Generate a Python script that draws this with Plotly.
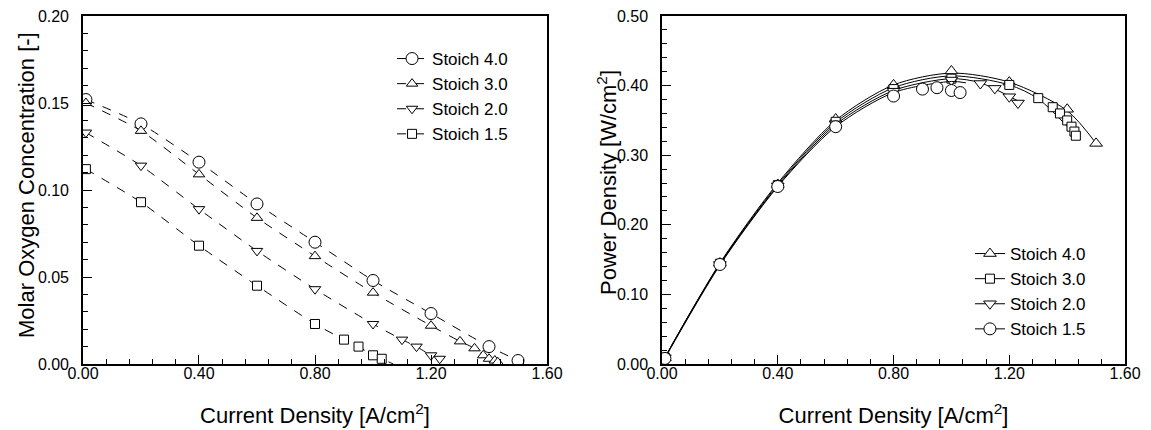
import plotly.graph_objects as go

# ---- left panel: molar oxygen concentration vs current density ----
o2_x_40 = [0.01, 0.2, 0.4, 0.6, 0.8, 1.0, 1.2, 1.4, 1.5]
o2_y_40 = [0.152, 0.138, 0.116, 0.092, 0.070, 0.048, 0.029, 0.010, 0.002]
o2_x_30 = [0.01, 0.2, 0.4, 0.6, 0.8, 1.0, 1.2, 1.3, 1.35, 1.38, 1.40, 1.42, 1.43]
o2_y_30 = [0.150, 0.134, 0.109, 0.084, 0.062, 0.041, 0.022, 0.013, 0.009, 0.005, 0.003, 0.002, 0.001]
o2_x_20 = [0.01, 0.2, 0.4, 0.6, 0.8, 1.0, 1.1, 1.15, 1.2, 1.23]
o2_y_20 = [0.133, 0.114, 0.089, 0.065, 0.043, 0.023, 0.014, 0.010, 0.005, 0.003]
o2_x_15 = [0.01, 0.2, 0.4, 0.6, 0.8, 0.9, 0.95, 1.0, 1.03]
o2_y_15 = [0.112, 0.093, 0.068, 0.045, 0.023, 0.014, 0.010, 0.005, 0.003]

# dashed curves (end points where they meet the axis)
o2_line_x_20 = o2_x_20 + [1.26]
o2_line_y_20 = o2_y_20 + [0.0]
o2_line_x_15 = o2_x_15 + [1.07]
o2_line_y_15 = o2_y_15 + [0.0]

# ---- right panel: power density vs current density ----
pw_x_40 = [0.0, 0.01, 0.2, 0.4, 0.6, 0.8, 1.0, 1.2, 1.4, 1.5]
pw_y_40 = [0.0, 0.009, 0.145, 0.258, 0.352, 0.401, 0.421, 0.405, 0.366, 0.317]
pw_x_30 = [0.0, 0.01, 0.2, 0.4, 0.6, 0.8, 1.0, 1.2, 1.3, 1.35, 1.375, 1.40, 1.415, 1.425, 1.43]
pw_y_30 = [0.0, 0.009, 0.144, 0.257, 0.348, 0.395, 0.410, 0.401, 0.382, 0.369, 0.360, 0.350, 0.341, 0.334, 0.328]
pw_x_20 = [0.0, 0.01, 0.2, 0.4, 0.6, 0.8, 1.0, 1.1, 1.15, 1.2, 1.23]
pw_y_20 = [0.0, 0.009, 0.143, 0.256, 0.345, 0.392, 0.408, 0.403, 0.396, 0.384, 0.375]
pw_x_15 = [0.0, 0.01, 0.2, 0.4, 0.6, 0.8, 0.9, 0.95, 1.0, 1.03]
pw_y_15 = [0.0, 0.008, 0.143, 0.255, 0.341, 0.385, 0.395, 0.397, 0.393, 0.390]

# fitted curves drawn through the power data
fit_x_40 = [0.0, 0.01, 0.2, 0.4, 0.6, 0.8, 1.0, 1.2, 1.4, 1.5]
fit_y_40 = [0.0, 0.009, 0.145, 0.260, 0.350, 0.401, 0.418, 0.405, 0.364, 0.317]
fit_x_30 = [0.0, 0.01, 0.2, 0.4, 0.6, 0.8, 1.0, 1.2, 1.3, 1.43]
fit_y_30 = [0.0, 0.009, 0.144, 0.258, 0.347, 0.397, 0.414, 0.401, 0.381, 0.328]
fit_x_20 = [0.0, 0.01, 0.2, 0.4, 0.6, 0.8, 1.0, 1.1, 1.23]
fit_y_20 = [0.0, 0.009, 0.143, 0.256, 0.344, 0.393, 0.410, 0.404, 0.378]
fit_x_15 = [0.0, 0.01, 0.2, 0.4, 0.6, 0.8, 1.0, 1.05]
fit_y_15 = [0.0, 0.008, 0.142, 0.255, 0.341, 0.390, 0.406, 0.404]

names = ['Stoich 4.0', 'Stoich 3.0', 'Stoich 2.0', 'Stoich 1.5']
font = 'Liberation Sans, Arial, sans-serif'

fig = go.Figure()

def mk(symbol, size):
    return dict(symbol=symbol, size=size, color='white', line=dict(color='black', width=1))

# left panel
left_sets = [
    (o2_x_40, o2_y_40, o2_x_40, o2_y_40, 'circle', 12),
    (o2_x_30, o2_y_30, o2_x_30, o2_y_30, 'triangle-up', 10),
    (o2_x_20, o2_y_20, o2_line_x_20, o2_line_y_20, 'triangle-down', 10),
    (o2_x_15, o2_y_15, o2_line_x_15, o2_line_y_15, 'square', 9),
]
for name, (mx, my, lx, ly, sym, sz) in zip(names, left_sets):
    fig.add_trace(go.Scatter(x=lx, y=ly, mode='lines', line=dict(color='black', width=1, dash='dash', shape='spline', smoothing=0.6),
                             showlegend=False, xaxis='x', yaxis='y', hoverinfo='skip'))
    fig.add_trace(go.Scatter(x=mx, y=my, mode='markers', marker=mk(sym, sz), showlegend=False, xaxis='x', yaxis='y'))
    # legend entry
    fig.add_trace(go.Scatter(x=[None], y=[None], mode='lines+markers', name=name, legend='legend',
                             line=dict(color='black', width=1, dash='dash'), marker=mk(sym, sz),
                             xaxis='x', yaxis='y'))

# right panel
right_sets = [
    (pw_x_40, pw_y_40, fit_x_40, fit_y_40, 'triangle-up', 11),
    (pw_x_30, pw_y_30, fit_x_30, fit_y_30, 'square', 9),
    (pw_x_20, pw_y_20, fit_x_20, fit_y_20, 'triangle-down', 11),
    (pw_x_15, pw_y_15, fit_x_15, fit_y_15, 'circle', 12),
]
for name, (mx, my, lx, ly, sym, sz) in zip(names, right_sets):
    fig.add_trace(go.Scatter(x=lx, y=ly, mode='lines', line=dict(color='black', width=1, shape='spline', smoothing=0.8),
                             showlegend=False, xaxis='x2', yaxis='y2', hoverinfo='skip'))
    fig.add_trace(go.Scatter(x=mx, y=my, mode='markers', marker=mk(sym, sz), showlegend=False, xaxis='x2', yaxis='y2'))
    fig.add_trace(go.Scatter(x=[None], y=[None], mode='lines+markers', name=name, legend='legend2',
                             line=dict(color='black', width=1), marker=mk(sym, sz),
                             xaxis='x2', yaxis='y2'))

axis_common = dict(
    showline=True, linecolor='black', linewidth=1.5, mirror=True,
    ticks='inside', ticklen=9, tickwidth=1, tickcolor='black',
    showgrid=False, zeroline=False, automargin=False,
    tickfont=dict(family=font, size=16, color='black'),
    tickformat='.2f', ticklabeloverflow='allow',
)

title_font = dict(family=font, size=22, color='black')
xtitle = dict(text='Current Density [A/cm<sup>2</sup>]', font=title_font, standoff=27)

fig.update_layout(
    width=1143, height=422,
    margin=dict(l=0, r=0, t=0, b=0),
    paper_bgcolor='white', plot_bgcolor='white',
    font=dict(family=font, color='black'),
    xaxis=dict(domain=[0.0656, 0.4716], range=[0, 1.6], dtick=0.4, anchor='y', ticklabelstandoff=-6,
               minor=dict(dtick=0.08, ticks='inside', ticklen=5, tickcolor='black'),
               title=xtitle, **axis_common),
    yaxis=dict(domain=[0.1564, 0.9810], range=[0, 0.2], dtick=0.05, anchor='x', ticklabelstandoff=9,
               minor=dict(dtick=0.01, ticks='inside', ticklen=5, tickcolor='black'),
               **axis_common),
    xaxis2=dict(domain=[0.5722, 0.9773], range=[0, 1.6], dtick=0.4, anchor='y2', ticklabelstandoff=-6,
                minor=dict(dtick=0.08, ticks='inside', ticklen=5, tickcolor='black'),
                title=xtitle, **axis_common),
    yaxis2=dict(domain=[0.1564, 0.9810], range=[0, 0.5], dtick=0.1, anchor='x2', ticklabelstandoff=9,
                minor=dict(dtick=0.02, ticks='inside', ticklen=5, tickcolor='black'),
                **axis_common),
    legend=dict(x=0.336, y=0.9218, xanchor='left', yanchor='top', bgcolor='rgba(0,0,0,0)',
                font=dict(family=font, size=17, color='black'), tracegroupgap=0),
    legend2=dict(x=0.8416, y=0.4597, xanchor='left', yanchor='top', bgcolor='rgba(0,0,0,0)',
                 font=dict(family=font, size=17, color='black'), tracegroupgap=0),
    annotations=[
        dict(text='Molar Oxygen Concentration [-]', textangle=-90, font=title_font, showarrow=False,
             xref='paper', yref='paper', x=0.0166, y=0.5806, xanchor='center', yanchor='middle'),
        dict(text='Power Density [W/cm<sup>2</sup>]', textangle=-90, font=title_font, showarrow=False,
             xref='paper', yref='paper', x=0.5240, y=0.5877, xanchor='center', yanchor='middle'),
    ],
)

fig.write_html("out.html")
